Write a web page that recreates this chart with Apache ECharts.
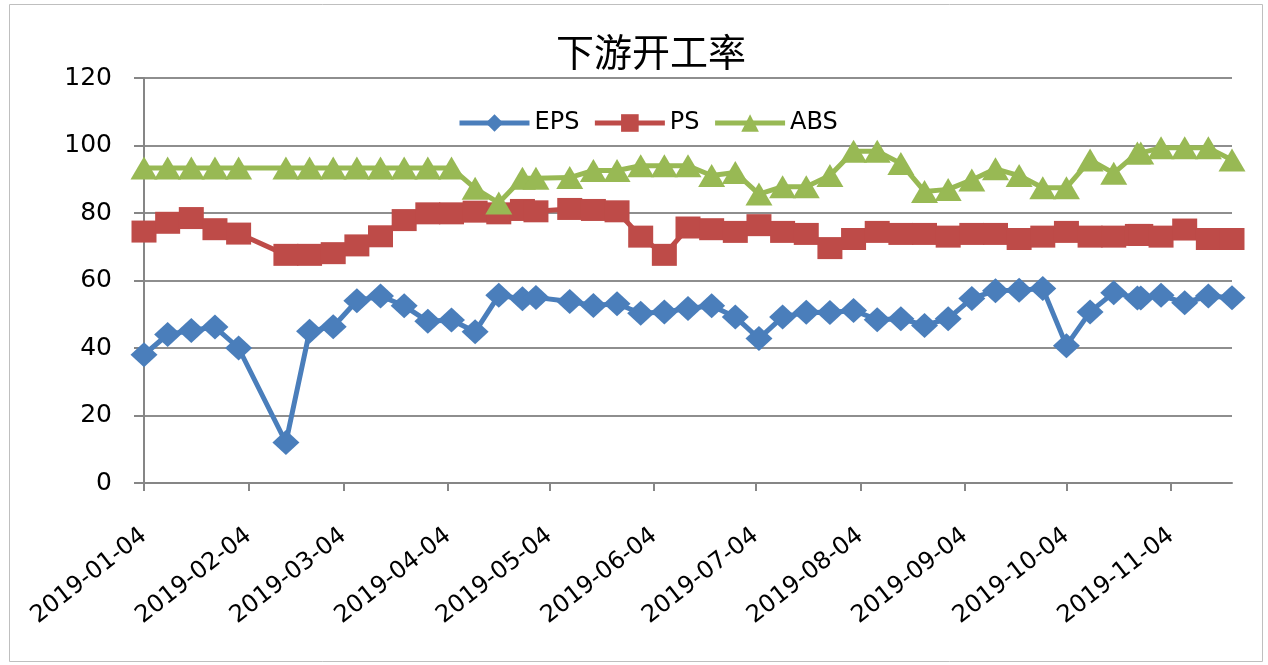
<!DOCTYPE html>
<html>
<head>
<meta charset="utf-8">
<script src="https://cdn.jsdelivr.net/npm/echarts@6.0.0/dist/echarts.min.js"></script>
<style>
html,body{margin:0;padding:0;background:#fff;}
#chart{width:1268px;height:665px;}
</style>
</head>
<body>
<div id="chart"></div>
<script>
// ---- data ----
const dates = [
  '2019-01-04','2019-01-11','2019-01-18','2019-01-25','2019-02-01',
  '2019-02-15','2019-02-22','2019-03-01','2019-03-08','2019-03-15',
  '2019-03-22','2019-03-29','2019-04-05','2019-04-12','2019-04-19',
  '2019-04-26','2019-04-30','2019-05-10','2019-05-17','2019-05-24',
  '2019-05-31','2019-06-07','2019-06-14','2019-06-21','2019-06-28',
  '2019-07-05','2019-07-12','2019-07-19','2019-07-26','2019-08-02',
  '2019-08-09','2019-08-16','2019-08-23','2019-08-30','2019-09-06',
  '2019-09-13','2019-09-20','2019-09-27','2019-10-04','2019-10-11',
  '2019-10-18','2019-10-25','2019-10-26','2019-11-01','2019-11-08',
  '2019-11-15','2019-11-22'
];
const eps = [
  38, 44, 45.2, 46.2, 40,
  12, 45, 46.3, 54, 55.4,
  52.5, 47.9, 48.3, 44.8, 55.6,
  54.6, 55, 53.8, 52.6, 53.1,
  50.3, 50.7, 51.7, 52.5, 49.2,
  42.8, 49.2, 50.6, 50.5, 51.1,
  48.4, 48.7, 46.7, 48.7, 54.7,
  57, 57.1, 57.6, 40.7, 50.7,
  56.4, 54.8, 54.8, 55.6, 53.4,
  55.4, 54.9
];
const ps = [
  74.5, 77.1, 78.5, 75.2, 73.9,
  67.6, 67.6, 68.1, 70.4, 73.1,
  77.9, 79.9, 79.9, 80.4, 79.9,
  80.9, 80.5, 81.2, 80.9, 80.5,
  73, 67.6, 75.7, 75.2, 74.4,
  76.4, 74.4, 73.8, 69.6, 72.3,
  74.4, 73.8, 73.8, 73, 73.8,
  73.8, 72.3, 73, 74.4, 73,
  73, 73.5, 73.5, 73, 75.1,
  72.3, 72.3
];
const abs = [
  93.3, 93.3, 93.3, 93.3, 93.3,
  93.3, 93.3, 93.3, 93.3, 93.3,
  93.3, 93.3, 93.3, 87.3, 83,
  90.3, 90.3, 90.5, 92.6, 92.6,
  94, 94, 94, 91.1, 92,
  85.6, 87.8, 87.8, 91.1, 98.3,
  98.3, 94.7, 86.4, 87, 89.8,
  93.1, 91.1, 87.5, 87.5, 95.7,
  91.8, 97.8, 97.8, 99.3, 99.3,
  99.3, 95.7
];
const seriesNames = ['EPS', 'PS', 'ABS'];
const tickDates = [
  '2019-01-04','2019-02-04','2019-03-04','2019-04-04','2019-05-04','2019-06-04',
  '2019-07-04','2019-08-04','2019-09-04','2019-10-04','2019-11-04'
];
const yTicks = [0, 20, 40, 60, 80, 100, 120];
const titleText = '下游开工率';

// ---- helpers: x position = day offset from the first date ----
const DAY = 86400000;
function ts(s) { const p = s.split('-').map(Number); return Date.UTC(p[0], p[1] - 1, p[2]); }
const t0 = ts(dates[0]);
function dayOf(s) { return Math.round((ts(s) - t0) / DAY); }
function pad(n) { return (n < 10 ? '0' : '') + n; }
function fmtDay(v) {
  const d = new Date(t0 + Math.round(v) * DAY);
  return d.getUTCFullYear() + '-' + pad(d.getUTCMonth() + 1) + '-' + pad(d.getUTCDate());
}
function pairs(vals) { return dates.map((d, i) => [dayOf(d), vals[i]]); }

const tickVals = tickDates.map(dayOf);
const colors = ['#4A7EBB', '#BE4B48', '#98B954'];
const symbols = ['diamond', 'rect', 'triangle'];
const symbolSizes = [[27, 25], [25, 22], [27, 23]];
const valueSets = [eps, ps, abs];

const chart = echarts.init(document.getElementById('chart'), null, { renderer: 'canvas' });
chart.setOption({
  animation: false,
  backgroundColor: '#ffffff',
  color: colors,
  title: {
    text: titleText,
    left: 646,
    textAlign: 'center',
    top: 28,
    textStyle: { fontFamily: 'Noto Sans CJK SC', fontSize: 38, fontWeight: 'normal', color: '#000' }
  },
  legend: {
    left: 452,
    top: 106,
    itemWidth: 70,
    itemHeight: 22,
    itemGap: 13,
    data: seriesNames,
    lineStyle: { width: 5 },
    textStyle: { fontFamily: 'DejaVu Sans', fontSize: 24, color: '#000' }
  },
  graphic: [{
    type: 'rect',
    shape: { x: 9.5, y: 4.5, width: 1253, height: 657 },
    style: { fill: 'none', stroke: '#BFBFBF', lineWidth: 1 },
    silent: true,
    z: -1
  }],
  grid: { left: 144, right: 36, top: 78, bottom: 182 },
  xAxis: {
    type: 'value',
    min: dayOf(dates[0]),
    max: dayOf(dates[dates.length - 1]),
    splitLine: { show: false },
    axisLine: { lineStyle: { color: '#868686', width: 2 } },
    axisTick: { show: true, customValues: tickVals, length: 8, lineStyle: { color: '#868686', width: 2 } },
    axisLabel: {
      customValues: tickVals,
      formatter: (v) => fmtDay(v),
      rotate: 38,
      margin: 50,
      fontFamily: 'DejaVu Sans',
      fontSize: 24,
      color: '#000'
    }
  },
  yAxis: {
    type: 'value',
    min: yTicks[0],
    max: yTicks[yTicks.length - 1],
    interval: 20,
    axisLine: { show: true, lineStyle: { color: '#868686', width: 2 } },
    axisTick: { show: true, length: 10, lineStyle: { color: '#868686', width: 2 } },
    splitLine: { lineStyle: { color: '#8E8E8E', width: 2 } },
    axisLabel: { margin: 32, fontFamily: 'DejaVu Sans', fontSize: 25, color: '#000' }
  },
  series: seriesNames.map((name, k) => ({
    name: name,
    type: 'line',
    data: pairs(valueSets[k]),
    symbol: symbols[k],
    symbolSize: symbolSizes[k],
    showAllSymbol: true,
    lineStyle: { width: 5, color: colors[k] },
    itemStyle: { color: colors[k] }
  }))
});
</script>
</body>
</html>
